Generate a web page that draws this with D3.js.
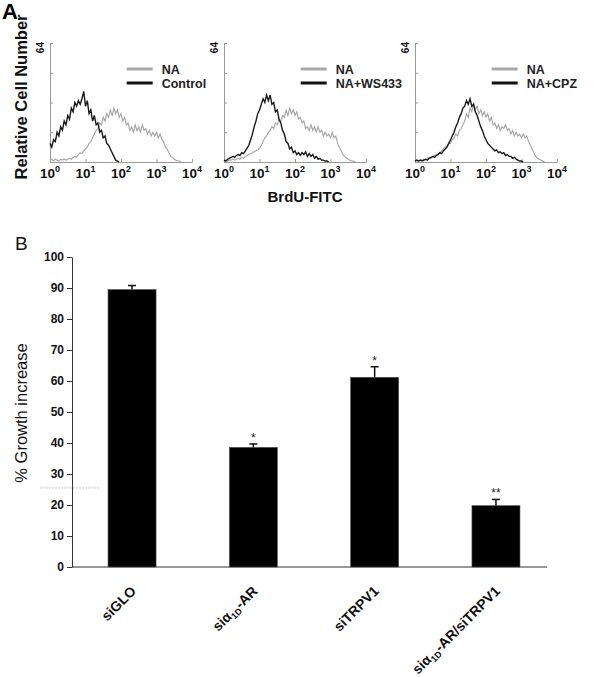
<!DOCTYPE html>
<html><head><meta charset="utf-8">
<script src="https://cdn.jsdelivr.net/npm/d3@7"></script>
<style>body{margin:0;background:#fff} svg{display:block;font-family:"Liberation Sans",Arial,sans-serif}</style>
</head><body><svg id="c" width="600" height="677"></svg>
<script>
// ---------- DATA ----------
const decadeTicks = [0, 1, 2, 3, 4];          // log10 fluorescence
const countTicks = [0, 16, 32, 48, 64];
const binStep = 0.05;                        // log10 units per channel bin
const histLegends = [["NA", "Control"], ["NA", "NA+WS433"], ["NA", "NA+CPZ"]];

const ctrlCounts = [10,8,12,11,16,14,19,17,22,20,25,23,29,27,32,30,33,31,34,38,30,33,26,28,22,25,20,21,16,17,13,14,10,9,7,5,3,1,0.5,0];
const naCounts1 = [0.5,1.5,0.5,1.5,1,0.5,1.5,1,1.5,1,1.5,2,1.5,2.5,3,2.5,4,5,4.5,6,7,8,10,11,13,15,17,18,21,20,24,22,26,24,28,25,29,26,28,24,26,22,24,20,21,17,19,16,20,17,19,16,20,17,18,15,17,14,16,14,16,13,15,12,11,8,7,5,3,2.5,1.5,1,0.5,0.5,0];

const ws433Counts = [1,0.5,1.5,2,2.5,3,2.5,3.5,4,3.5,5,4.5,6,7.5,9,12,15,19,22,26,28,31,34,32,36,33,36,31,32,27,28,23,21,17,15,11,10,7,8,5,6,4,5,3.5,5,4,5.5,3,4.5,3,4,2,3,1.5,2,1,1,0.5,0.5,0];
const naCounts2 = [0.5,1,0.5,1,1,1.5,1,1.5,2,1.5,2.5,2,3,3.5,4,4.5,5,5.5,6,6.5,7.5,9,11,13,14,16,17,19,18,21,20,23,22,25,24,28,25,29,26,28,25,27,23,24,21,22,18,19,17,20,17,19,16,19,16,17,14,16,14,15,13,16,13,14,10,8,6,4,3,2,1.5,1,0.5,0.5,0];

const cpzCounts = [0.5,1,0.5,1,0.5,1,1.5,1,2,2.5,3,2.5,3.5,4,5,4.5,6,7,8,10,12,14,16,19,21,24,26,29,30,33,31,34,30,31,27,25,22,19,17,14,12,10,9,8,7,6,6.5,5,5.5,4.5,5,3.5,4,3,3,2,2.5,1.5,1,0.5,0.5,0];
const naCounts3 = [0.5,1,0.5,1,1,1.5,1,2,2.5,2,3,3.5,4,4.5,5,6,7,8,8.5,10,10,12,13,15,14,17,18,20,22,26,24,29,27,32,28,30,26,28,25,27,24,26,22,24,20,21,18,20,17,19,18,20,17,18,15,17,14,16,14,15,13,15,13,14,11,9,7,5,3,2,1.5,1,0.5,0];

const histSeries = [[naCounts1, ctrlCounts], [naCounts2, ws433Counts], [naCounts3, cpzCounts]];

const groups = ["siGLO", "siα1D-AR", "siTRPV1", "siα1D-AR/siTRPV1"];
const growth = [89.5, 38.6, 61.2, 19.8];
const growthErr = [1.3, 1.1, 3.4, 2.0];
const signif = ["", "*", "*", "**"];
const growthTicks = [0, 10, 20, 30, 40, 50, 60, 70, 80, 90, 100];

// ---------- DRAW ----------
const svg = d3.select("#c");
const FONT = '"Liberation Sans", Arial, sans-serif';

// Panel A
svg.append("text").attr("x", 2).attr("y", 19).attr("font-size", 22).attr("font-weight", "bold").text("A");
svg.append("text").attr("transform", "translate(27,97) rotate(-90)").attr("text-anchor", "middle")
  .attr("font-size", 16.5).attr("font-weight", "bold").attr("fill", "#111").text("Relative Cell Number");
svg.append("text").attr("x", 305).attr("y", 202).attr("text-anchor", "middle")
  .attr("font-size", 15).attr("font-weight", "bold").attr("fill", "#111").text("BrdU-FITC");

const panelLeft = [50, 224, 415];
const panelW = 142;
const yA = d3.scaleLinear().domain([0, 64]).range([162, 43]);

panelLeft.forEach((x0, p) => {
  const x = d3.scaleLinear().domain([0, 4]).range([x0, x0 + panelW]);
  const g = svg.append("g");
  const ax = g.append("g").attr("transform", `translate(0,${yA(0)})`)
    .call(d3.axisBottom(x).tickValues(decadeTicks).tickSize(-3).tickSizeOuter(0).tickFormat(""));
  const ay = g.append("g").attr("transform", `translate(${x0},0)`)
    .call(d3.axisLeft(yA).tickValues(countTicks).tickSize(-3).tickSizeOuter(0).tickFormat(""));
  [ax, ay].forEach(a => { a.selectAll("path,line").attr("stroke", "#999"); });
  decadeTicks.forEach(d => {
    const t = g.append("text").attr("x", x(d)).attr("y", 178).attr("text-anchor", "middle")
      .attr("font-size", 13.5).attr("font-weight", "bold").attr("fill", "#111");
    t.append("tspan").text("10");
    t.append("tspan").attr("dy", -6).attr("font-size", 9).text(d);
  });
  g.append("text").attr("transform", `translate(${x0 - 6},42) rotate(-90)`).attr("text-anchor", "end")
    .attr("font-size", 10).attr("font-weight", "bold").attr("fill", "#111").text(countTicks[countTicks.length - 1]);
  const line = d3.line().x((d, i) => x(i * binStep)).y(d => yA(d));
  const [gray, black] = histSeries[p];
  g.append("path").datum(gray).attr("d", line).attr("fill", "none").attr("stroke", "#a3a3a3").attr("stroke-width", 1.1);
  g.append("path").datum(black).attr("d", line).attr("fill", "none").attr("stroke", "#1a1a1a").attr("stroke-width", 1.4);
  const lx = x(2.16), ly = [69, 83], cols = ["#a8a8a8", "#111"];
  histLegends[p].forEach((lab, k) => {
    g.append("line").attr("x1", lx).attr("x2", lx + 26).attr("y1", ly[k]).attr("y2", ly[k])
      .attr("stroke", cols[k]).attr("stroke-width", 3);
    g.append("text").attr("x", lx + 35).attr("y", ly[k] + 4.5).attr("font-size", 12.5)
      .attr("font-weight", "bold").attr("fill", "#222").text(lab);
  });
});

// Panel B
svg.append("text").attr("x", 15).attr("y", 250).attr("font-size", 19).attr("fill", "#111").text("B");
const yB = d3.scaleLinear().domain([0, 100]).range([567, 257]);
const xB = d3.scaleBand().domain(groups).range([72, 556]).paddingInner(0.604).paddingOuter(0.297);

const gy = svg.append("g").attr("transform", "translate(72,0)")
  .call(d3.axisLeft(yB).tickValues(growthTicks).tickSize(5).tickSizeOuter(0).tickPadding(3));
gy.selectAll("path,line").attr("stroke", "#333");
gy.selectAll("text").attr("font-size", 12).attr("font-weight", "bold").attr("fill", "#111").attr("font-family", FONT);
svg.append("line").attr("x1", 72).attr("x2", 547).attr("y1", yB(0)).attr("y2", yB(0)).attr("stroke", "#333").attr("stroke-width", 1.2);

svg.append("text").attr("transform", "translate(27,413) rotate(-90)").attr("text-anchor", "middle")
  .attr("font-size", 16.5).attr("fill", "#111").text("% Growth increase");

svg.append("line").attr("x1", 40).attr("x2", 100).attr("y1", yB(25.5)).attr("y2", yB(25.5))
  .attr("stroke", "#c8c8c8").attr("stroke-dasharray", "2,1");

const bars = svg.append("g");
groups.forEach((gname, i) => {
  const cx = xB(gname) + xB.bandwidth() / 2;
  bars.append("rect").attr("x", xB(gname)).attr("width", xB.bandwidth())
    .attr("y", yB(growth[i])).attr("height", yB(0) - yB(growth[i])).attr("fill", "#000").attr("stroke", "#555").attr("stroke-width", 0.6);
  const top = yB(growth[i] + growthErr[i]);
  bars.append("line").attr("x1", cx).attr("x2", cx).attr("y1", yB(growth[i])).attr("y2", top).attr("stroke", "#111").attr("stroke-width", 1.5);
  bars.append("line").attr("x1", cx - 4).attr("x2", cx + 4).attr("y1", top).attr("y2", top).attr("stroke", "#111").attr("stroke-width", 1.5);
  if (signif[i]) bars.append("text").attr("x", cx).attr("y", top - 2).attr("text-anchor", "middle")
    .attr("font-size", 12).attr("fill", "#222").text(signif[i]);
  const t = bars.append("text").attr("transform", `translate(${cx + 5},592) rotate(-45)`)
    .attr("text-anchor", "end").attr("font-size", 14).attr("font-weight", "bold").attr("fill", "#111");
  const parts = gname.split("1D");
  parts.forEach((part, k) => {
    if (k > 0) t.append("tspan").attr("font-size", 9).attr("dy", 3).text("1D");
    t.append("tspan").attr("dy", k > 0 ? -3 : 0).text(part);
  });
});
</script></body></html>
